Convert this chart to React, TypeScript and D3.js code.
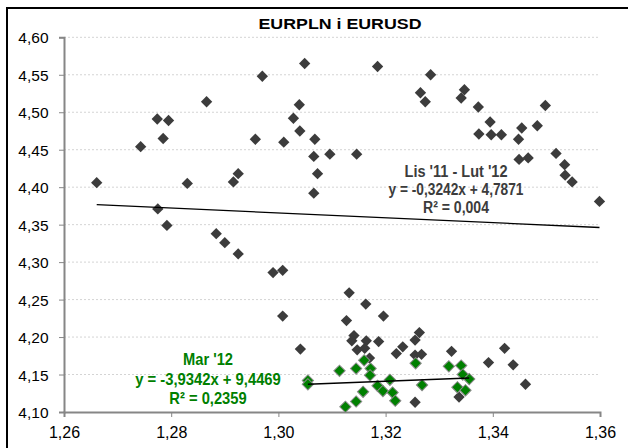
import React, { useEffect, useRef } from 'react';
import * as d3 from 'd3';

// EURUSD (os x) i EURPLN (os y), Lis '11 - Lut '12
const eurusdLisLut = [
  1.2661, 1.2743, 1.2774, 1.2795, 1.2785, 1.2775, 1.2792, 1.2830, 1.2866, 1.2884,
  1.2900, 1.2916, 1.2925, 1.2925, 1.2957, 1.2970, 1.2990, 1.3008, 1.3010, 1.3008,
  1.3028, 1.3039, 1.3040, 1.3041, 1.3049, 1.3068, 1.3066, 1.3073, 1.3066, 1.3096,
  1.3146, 1.3185, 1.3284, 1.3265, 1.3274, 1.3347, 1.3341, 1.3373, 1.3395, 1.3374,
  1.3397, 1.3416, 1.3448, 1.3454, 1.3483, 1.3498, 1.3449, 1.3466, 1.3518, 1.3534,
  1.3535, 1.3548, 1.3599, 1.3132, 1.3163, 1.3196, 1.3127, 1.3141, 1.3137, 1.3164,
  1.3187, 1.3147, 1.3161, 1.3220, 1.3232, 1.3170, 1.3255, 1.3263, 1.3255, 1.3267,
  1.3323, 1.3337, 1.3255, 1.3392, 1.3422, 1.3438, 1.3461,
];
const eurplnLisLut = [
  4.406, 4.454, 4.491, 4.489, 4.465, 4.371, 4.349, 4.405, 4.514, 4.338,
  4.326, 4.407, 4.418, 4.311, 4.464, 4.548, 4.286, 4.289, 4.460, 4.228,
  4.492, 4.510, 4.475, 4.184, 4.565, 4.464, 4.441, 4.418, 4.392, 4.444,
  4.444, 4.561, 4.550, 4.526, 4.514, 4.530, 4.519, 4.507, 4.487, 4.471,
  4.470, 4.470, 4.464, 4.479, 4.482, 4.509, 4.437, 4.439, 4.445, 4.430,
  4.416, 4.407, 4.381, 4.259, 4.244, 4.228, 4.222, 4.202, 4.195, 4.195,
  4.194, 4.183, 4.185, 4.178, 4.187, 4.172, 4.196, 4.206, 4.176, 4.177,
  4.181, 4.120, 4.113, 4.166, 4.185, 4.163, 4.137,
];

// Mar '12
const eurusdMar = [
  1.3055, 1.3055, 1.3114, 1.3145, 1.3160, 1.3172, 1.3171, 1.3185, 1.3195, 1.3208,
  1.3213, 1.3218, 1.3158, 1.3145, 1.3125, 1.3256, 1.3268, 1.3318, 1.3341, 1.3344,
  1.3356, 1.3334, 1.3349,
];
const eurplnMar = [
  4.142, 4.137, 4.155, 4.158, 4.169, 4.158, 4.149, 4.135, 4.128, 4.143,
  4.126, 4.115, 4.127, 4.114, 4.107, 4.165, 4.136, 4.161, 4.162, 4.150,
  4.144, 4.133, 4.129,
];

const xTicks = [1.26, 1.28, 1.3, 1.32, 1.34, 1.36];
const yTicks = [4.1, 4.15, 4.2, 4.25, 4.3, 4.35, 4.4, 4.45, 4.5, 4.55, 4.6];

const trendLisLut = { slope: -0.3242, intercept: 4.7871 };
// linia marcowa tak jak na wykresie
const trendMar = { slope: 0.277, intercept: 3.7755 };

const title = 'EURPLN i EURUSD';
const labelLisLut = ["Lis '11 - Lut '12", 'y = -0,3242x + 4,7871', 'R² = 0,004'];
const labelMar = ["Mar '12", 'y = -3,9342x + 9,4469', 'R² = 0,2359'];

const FONT = '"Liberation Sans", Arial, sans-serif';

const App = () => {
  const chartRef = useRef<SVGSVGElement>(null);

  useEffect(() => {
    const svg = d3.select(chartRef.current);
    svg.selectAll('*').remove();

    const x = d3.scaleLinear().domain([1.26, 1.36]).range([64, 600]);
    const y = d3.scaleLinear().domain([4.1, 4.6]).range([412, 37.3]);
    const fmt = (v: number) => d3.format('.2f')(v).replace('.', ',');

    svg.append('rect')
      .attr('width', 628).attr('height', 448).attr('fill', '#fff');

    // ramka
    svg.append('rect')
      .attr('x', 7).attr('y', 8).attr('width', 700).attr('height', 500)
      .attr('fill', 'none').attr('stroke', '#000').attr('stroke-width', 2);

    // siatka
    svg.append('g')
      .selectAll('line')
      .data(yTicks.slice(1))
      .enter()
      .append('line')
      .attr('x1', x(1.26)).attr('x2', x(1.36))
      .attr('y1', d => y(d)).attr('y2', d => y(d))
      .attr('stroke', '#d4d4d4')
      .attr('stroke-dasharray', '2,2');

    // osie
    const axisColor = '#868686';
    const yAxis = svg.append('g')
      .attr('transform', `translate(${x(1.26)},0)`)
      .call(d3.axisLeft(y).tickValues(yTicks).tickSize(5).tickFormat(d => fmt(+d)));
    const xAxis = svg.append('g')
      .attr('transform', `translate(0,${y(4.1)})`)
      .call(d3.axisBottom(x).tickValues(xTicks).tickSize(5).tickFormat(d => fmt(+d)));

    [yAxis, xAxis].forEach(a => {
      a.select('.domain').attr('stroke', axisColor).attr('stroke-width', 2);
      a.selectAll('.tick line').attr('stroke', axisColor);
      a.selectAll('.tick text')
        .attr('fill', '#000')
        .style('font-family', FONT);
    });
    yAxis.selectAll('.tick text').attr('x', -15.5).attr('dy', '0.36em').style('font-size', '15.5px');
    xAxis.selectAll('.tick text').attr('y', 15).attr('dy', '0.71em').style('font-size', '16px');

    const diamond = d3.symbol().type(d3.symbolSquare).size(64);

    // punkty Lis-Lut
    svg.append('g')
      .selectAll('path')
      .data(eurusdLisLut.map((v, i) => [v, eurplnLisLut[i]]))
      .enter()
      .append('path')
      .attr('d', diamond)
      .attr('transform', d => `translate(${x(d[0])},${y(d[1])}) rotate(45)`)
      .attr('fill', '#3c3c3c');

    // punkty Mar
    svg.append('g')
      .selectAll('path')
      .data(eurusdMar.map((v, i) => [v, eurplnMar[i]]))
      .enter()
      .append('path')
      .attr('d', diamond)
      .attr('transform', d => `translate(${x(d[0])},${y(d[1])}) rotate(45)`)
      .attr('fill', '#008000')
      .attr('stroke', '#8a8a8a')
      .attr('stroke-width', 1);

    // linie trendu
    const trend = (xs: number[], t: { slope: number; intercept: number }) => {
      const [x0, x1] = d3.extent(xs) as [number, number];
      return [[x0, t.slope * x0 + t.intercept], [x1, t.slope * x1 + t.intercept]];
    };
    const line = d3.line<number[]>().x(d => x(d[0])).y(d => y(d[1]));
    svg.append('path')
      .attr('d', line(trend(eurusdLisLut, trendLisLut)))
      .attr('fill', 'none').attr('stroke', '#000').attr('stroke-width', 1.3);
    svg.append('path')
      .attr('d', line(trend(eurusdMar, trendMar)))
      .attr('fill', 'none').attr('stroke', '#000').attr('stroke-width', 1.5);

    // tytul
    svg.append('text')
      .attr('x', 340).attr('y', 29.3)
      .attr('text-anchor', 'middle')
      .attr('textLength', 163).attr('lengthAdjust', 'spacingAndGlyphs')
      .style('font-family', FONT).style('font-size', '14.5px').style('font-weight', 'bold')
      .text(title);

    // etykiety rownan
    const drawLabel = (lines: string[], cx: number, base: number[], widths: number[], size: number, color: string) => {
      svg.append('g')
        .selectAll('text')
        .data(lines)
        .enter()
        .append('text')
        .attr('x', cx)
        .attr('y', (d, i) => base[i])
        .attr('text-anchor', 'middle')
        .attr('textLength', (d, i) => widths[i])
        .attr('lengthAdjust', 'spacingAndGlyphs')
        .attr('fill', color)
        .style('font-family', FONT).style('font-size', `${size}px`).style('font-weight', 'bold')
        .text(d => d);
    };
    drawLabel(labelLisLut, 456, [176.7, 195.3, 213.3], [103, 135, 66], 16, '#3c3c3c');
    drawLabel(labelMar, 208, [365, 384.5, 404.3], [50, 145.7, 77.3], 17, '#008000');
  }, []);

  return (
    <svg
      ref={chartRef}
      width={628}
      height={448}
      style={{ position: 'absolute', left: 0, top: 0 }}
    />
  );
};

export default App;
